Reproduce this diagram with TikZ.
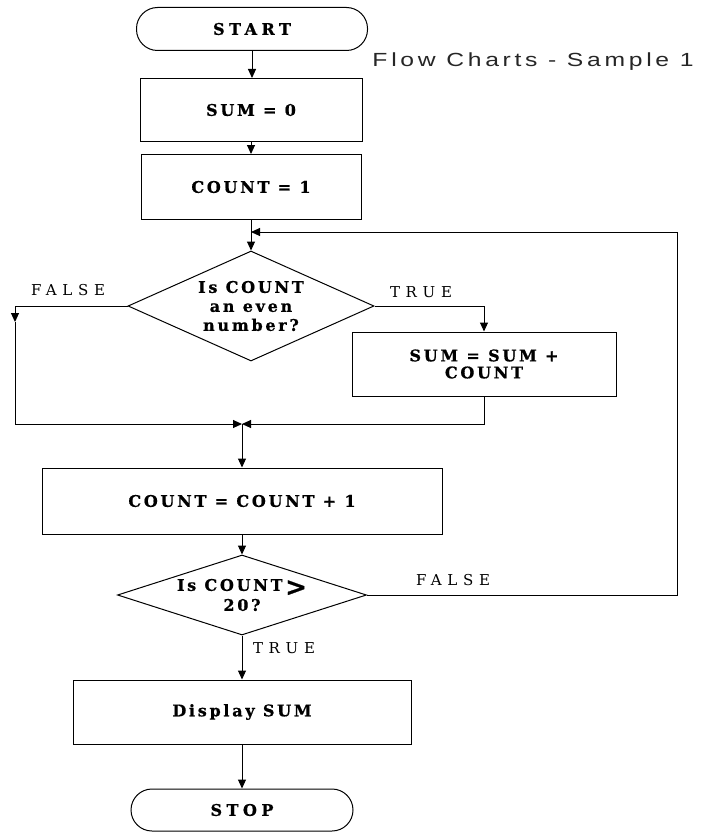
\documentclass[tikz,border=0pt]{standalone}
\usepackage{fontspec}
\usetikzlibrary{shapes.geometric,arrows.meta}
\newfontfamily\fcb{DejaVu Serif}[LetterSpace=17,BoldFeatures={FakeBold=0.8}]
\newfontfamily\fcs{DejaVu Serif}[LetterSpace=28,BoldFeatures={FakeBold=0.8}]
\newfontfamily\fcr{DejaVu Serif}[LetterSpace=38]
\newfontfamily\ttl{Liberation Sans}[LetterSpace=15]
\begin{document}
\begin{tikzpicture}[x=1pt,y=-1pt,
  ln/.style={line width=1pt},
  arr/.style={ln,-{Triangle[length=9pt,width=8pt]}},
  box/.style={draw,ln,inner sep=0pt,align=center,
    font=\fcb\bfseries\fontsize{16}{18}\selectfont},
  term/.style={box,rounded corners=21pt,font=\fcs\bfseries\fontsize{16}{18}\selectfont},
  dec/.style={draw,ln,diamond,inner sep=0pt,align=center,
    font=\fcb\bfseries\fontsize{16}{19}\selectfont},
  lab/.style={font=\fcr\fontsize{15}{16}\selectfont}]
\useasboundingbox (0,0) rectangle (708,832);
\fill[white] (0,0) rectangle (708,832);
% nodes
\node[term,minimum width=231pt,minimum height=43pt] (start) at (252,29) {START};
\node[box,minimum width=222pt,minimum height=63pt] (sum0) at (251,110) {SUM = 0};
\node[box,minimum width=220pt,minimum height=65pt] (cnt1) at (251,187) {COUNT = 1};
\node[dec,aspect=2.24,minimum width=246pt,minimum height=110pt] (even) at (251,306) {Is COUNT\\an even\\number?};
\node[box,font=\fcb\bfseries\fontsize{16}{17}\selectfont,minimum width=264pt,minimum height=64pt] (add) at (484,364) {SUM = SUM +\\COUNT};
\node[box,minimum width=400pt,minimum height=66pt] (inc) at (242,501) {COUNT = COUNT + 1};
\node[dec,aspect=3.1,minimum width=249pt,minimum height=80pt,font=\fcb\bfseries\fontsize{16}{20}\selectfont] (gt) at (242,595) {Is COUNT\,\smash{\raisebox{-5pt}{\fontsize{26}{26}\selectfont >}}\\20?};
\node[box,minimum width=338pt,minimum height=64pt] (disp) at (242,712) {Display SUM};
\node[term,minimum width=222pt,minimum height=42pt] (stop) at (242,810) {STOP};
% labels
\node[lab] (lf1) at (68,290) {FALSE};
\node[lab] (lt1) at (421,292) {TRUE};
\node[lab] (lf2) at (453,580) {FALSE};
\node[lab] (lt2) at (284,648) {TRUE};
\node[font=\ttl\fontsize{19}{21}\selectfont,text=black!85] (title) at (533,62) {\scalebox{1.3}[1]{Flow Charts - Sample 1}};
% helper coordinates
\path (cnt1.south) ++(0,12) coordinate (mg1);
\coordinate (fa) at (15,322);
\coordinate (fb) at (15,424);
\coordinate (mg2) at (242,424);
\coordinate (lr) at (677,595);
\coordinate (ur) at (677,232);
% connectors
\draw[arr] (start.south) -- (start.south |- sum0.north);
\draw[arr] (sum0.south) -- (sum0.south |- cnt1.north);
\draw[arr] (cnt1.south) -- (even.north);
\draw[arr] (even.west) -| (fa);
\draw[arr] (fa) -- (fb) -- (mg2);
\draw[arr] (even.east) -| (add.north);
\draw[arr] (add.south) |- (mg2);
\draw[arr] (mg2) -- (mg2 |- inc.north);
\draw[arr] (inc.south) -- (gt.north);
\draw[arr] (gt.south) -- (disp.north);
\draw[arr] (disp.south) -- (stop.north);
\draw[arr] (gt.east) -- (lr) -- (ur) -- (mg1);
\end{tikzpicture}
\end{document}
